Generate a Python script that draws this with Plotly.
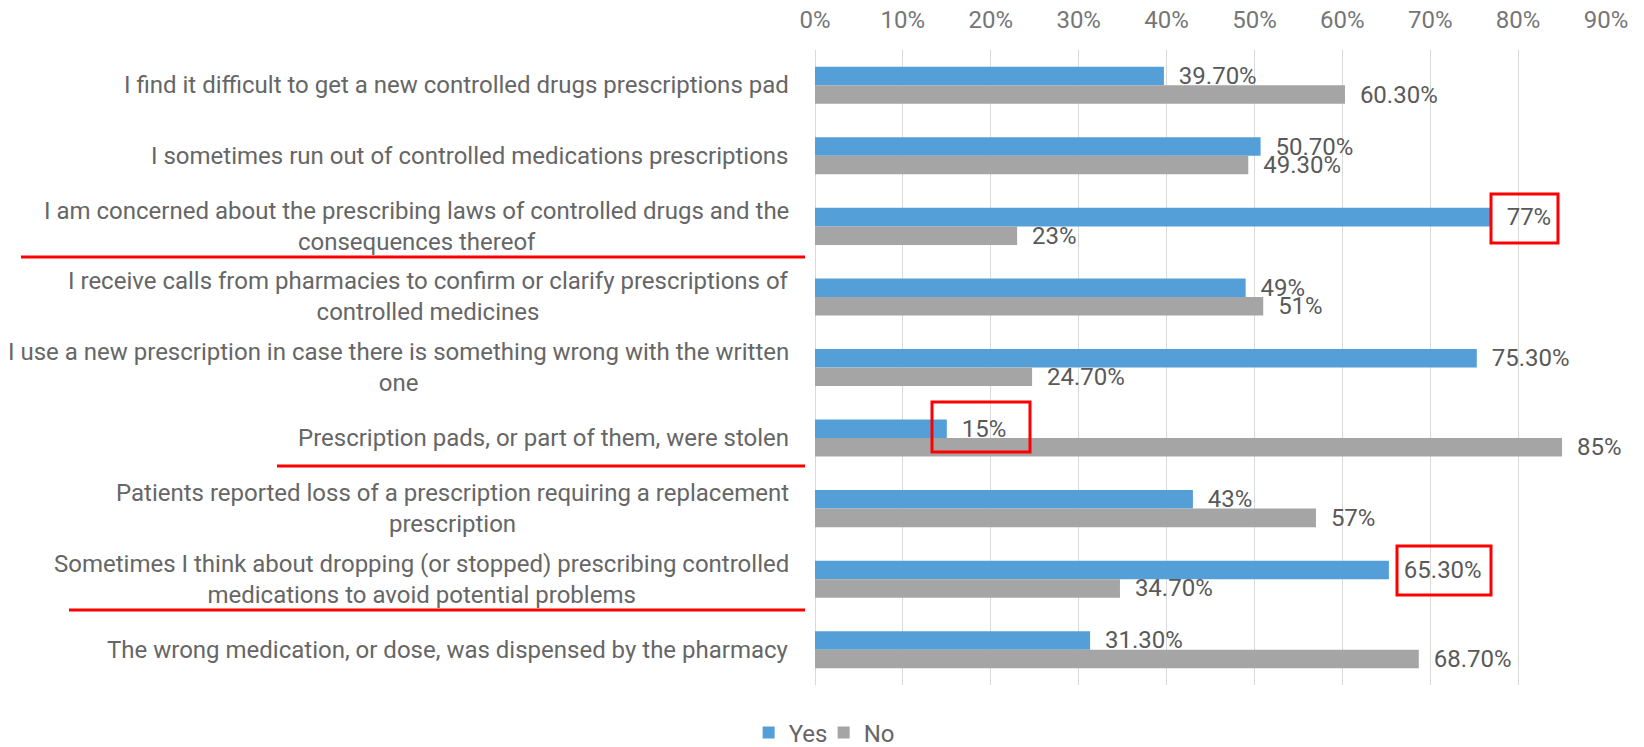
import plotly.graph_objects as go

categories = [
    "I find it difficult to get a new controlled drugs prescriptions pad",
    "I sometimes run out of controlled medications prescriptions",
    "I am concerned about the prescribing laws of controlled drugs and the<br>consequences thereof",
    "I receive calls from pharmacies to confirm or clarify prescriptions of<br>controlled medicines",
    "I use a new prescription in case there is something wrong with the written<br>one",
    "Prescription pads, or part of them, were stolen",
    "Patients reported loss of a prescription requiring a replacement<br>prescription",
    "Sometimes I think about dropping (or stopped) prescribing controlled<br>medications to avoid potential problems",
    "The wrong medication, or dose, was dispensed by the pharmacy",
]
yes_values = [39.7, 50.7, 77, 49, 75.3, 15, 43, 65.3, 31.3]
no_values = [60.3, 49.3, 23, 51, 24.7, 85, 57, 34.7, 68.7]
yes_labels = ["39.70%", "50.70%", "77%", "49%", "75.30%", "15%", "43%", "65.30%", "31.30%"]
no_labels = ["60.30%", "49.30%", "23%", "51%", "24.70%", "85%", "57%", "34.70%", "68.70%"]
x_ticks = [0, 10, 20, 30, 40, 50, 60, 70, 80, 90]
x_tick_labels = ["0%", "10%", "20%", "30%", "40%", "50%", "60%", "70%", "80%", "90%"]

W, H = 1644, 747
L, R, T, B = 815, 1606, 50, 685
FONT = "Roboto"
FS = 24

def px(xp):
    return (xp - L) / (R - L)

def py(yp):
    return (B - yp) / (B - T)

fig = go.Figure()
pad = "\u00a0\u00a0"
fig.add_trace(go.Bar(
    name="Yes", y=categories, x=yes_values, orientation="h",
    marker=dict(color="#559FD8", line=dict(width=0)),
    text=yes_labels, texttemplate=pad + "%{text}", textposition="outside",
    constraintext="none", cliponaxis=False,
    textfont=dict(family=FONT, size=FS, color="#595959"),
    hoverinfo="skip",
))
fig.add_trace(go.Bar(
    name="No", y=categories, x=no_values, orientation="h",
    marker=dict(color="#A5A5A5", line=dict(width=0)),
    text=no_labels, texttemplate=pad + "%{text}", textposition="outside",
    constraintext="none", cliponaxis=False,
    textfont=dict(family=FONT, size=FS, color="#595959"),
    hoverinfo="skip",
))

annotations = []
for c in categories:
    annotations.append(dict(
        x=0, xref="paper", y=c, yref="y", xanchor="right", yanchor="middle",
        xshift=-24, text=c, showarrow=False, align="center",
        font=dict(family=FONT, size=FS, color="#666666"),
    ))

shapes = []
for (x0, y0, x1, y1) in [(1491, 194, 1558, 243), (932, 402, 1030, 452), (1397, 546, 1491, 595)]:
    shapes.append(dict(type="rect", xref="paper", yref="paper",
                       x0=px(x0), x1=px(x1), y0=py(y0), y1=py(y1),
                       line=dict(color="#FF0000", width=3), fillcolor="rgba(0,0,0,0)"))
for (x0, x1, yy) in [(21, 805, 257), (277, 805, 466), (69, 805, 610)]:
    shapes.append(dict(type="line", xref="paper", yref="paper",
                       x0=px(x0), x1=px(x1), y0=py(yy), y1=py(yy),
                       line=dict(color="#FF0000", width=3)))

fig.update_layout(
    template="none",
    width=W, height=H,
    margin=dict(l=L, r=W - R, t=T, b=H - B, pad=0, autoexpand=False),
    paper_bgcolor="white", plot_bgcolor="white",
    barmode="group", bargap=0.475, bargroupgap=0,
    font=dict(family=FONT, size=FS, color="#595959"),
    xaxis=dict(
        side="top", range=[0, 90], tickmode="array", tickvals=x_ticks, ticktext=x_tick_labels,
        showgrid=True, gridcolor="#D9D9D9", gridwidth=1,
        zeroline=True, zerolinecolor="#D9D9D9", zerolinewidth=1,
        ticks="outside", ticklen=11, tickcolor="rgba(0,0,0,0)",
        tickfont=dict(family=FONT, size=FS, color="#767676"),
        showline=False, fixedrange=True, automargin=False,
    ),
    yaxis=dict(
        type="category", autorange="reversed", showticklabels=False,
        showgrid=False, zeroline=False, showline=False, ticks="", fixedrange=True,
        automargin=False,
    ),
    legend=dict(
        orientation="h", xref="container", yref="container",
        x=0.501, xanchor="center", y=0.019, yanchor="middle",
        font=dict(family=FONT, size=FS, color="#666666"),
        traceorder="normal", itemwidth=30, bgcolor="rgba(0,0,0,0)",
        entrywidth=30, entrywidthmode="pixels",
    ),
    annotations=annotations,
    shapes=shapes,
    showlegend=True,
)

fig.write_html("out.html", config={"displayModeBar": False},
               post_script="document.body.style.margin='0';document.body.style.overflow='hidden';")
